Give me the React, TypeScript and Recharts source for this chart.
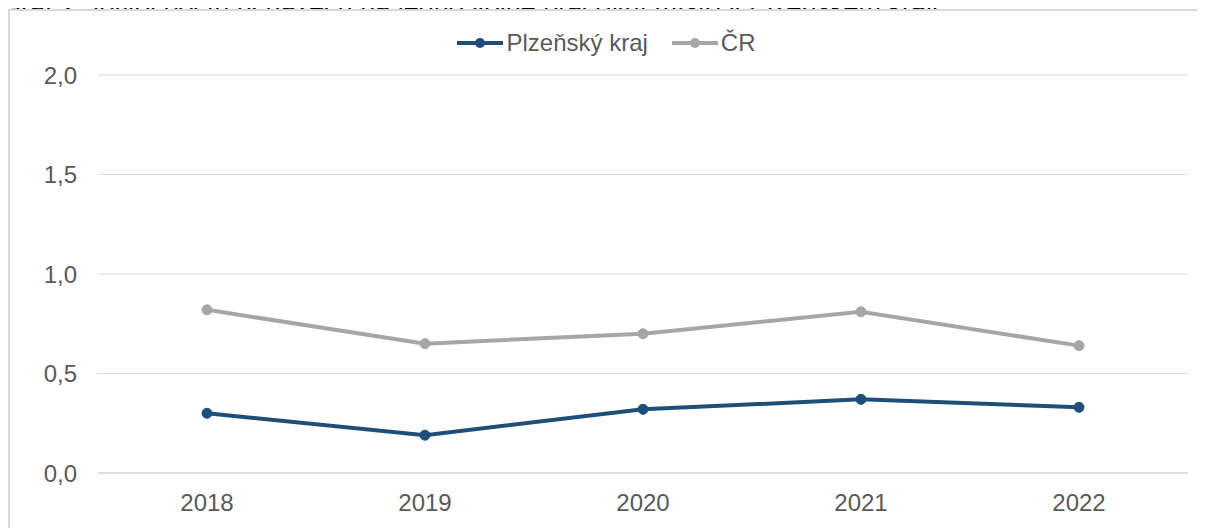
import React from "react";
import { LineChart, Line, XAxis, YAxis, CartesianGrid, Legend } from "recharts";

const years = ["2018", "2019", "2020", "2021", "2022"];
const plzenskyKraj = [0.3, 0.19, 0.32, 0.37, 0.33];
const cr = [0.82, 0.65, 0.7, 0.81, 0.64];
const yTicks = [0, 0.5, 1, 1.5, 2];
const title = "Graf 2: Vývoj počtu uchazečů na jedno volné pracovní místo v Plzeňském kraji";

const data = years.map((y, i) => ({ year: y, plzen: plzenskyKraj[i], cr: cr[i] }));

const BLUE = "#1f4e79";
const GRAY = "#a6a6a6";
const TEXT = "#595959";
const FONT = "'Liberation Sans', Arial, sans-serif";

const LegendContent = () => {
  const items = [
    { label: "Plzeňský kraj", color: BLUE },
    { label: "ČR", color: GRAY },
  ];
  return (
    <div style={{ display: "flex", justifyContent: "center", fontFamily: FONT, fontSize: 24, lineHeight: "24px", color: TEXT, paddingLeft: 8 }}>
      {items.map((it, i) => (
        <div key={it.label} style={{ display: "flex", alignItems: "center", marginRight: i === 0 ? 24 : 0 }}>
          <svg width={46} height={14} style={{ marginRight: 3 }}>
            <line x1={0} y1={7} x2={46} y2={7} stroke={it.color} strokeWidth={4} />
            <circle cx={23} cy={7} r={5} fill={it.color} />
          </svg>
          <span>{it.label}</span>
        </div>
      ))}
    </div>
  );
};

const fmt = (v: number) => v.toFixed(1).replace(".", ",");

export default function App() {
  return (
    <div style={{ position: "relative", width: 1205, height: 528, margin: "-8px 0 0 -8px", overflow: "hidden", background: "#fff" }}>
      <svg width={1205} height={24} style={{ position: "absolute", left: 0, top: 0 }}>
        <text x={0} y={16} fontFamily={FONT} fontStyle="italic" fontSize={27} fill="#000">
          {title}
        </text>
      </svg>
      <div
        style={{
          position: "absolute",
          left: 8,
          top: 9,
          width: 1220,
          height: 540,
          border: "2px solid #d9d9d9",
          boxSizing: "border-box",
          background: "#fff",
        }}
      />
      <div style={{ position: "absolute", left: 0, top: 0 }}>
        <LineChart width={1205} height={528} data={data} margin={{ top: 51, right: 17, bottom: 25, left: 38 }}>
          <CartesianGrid vertical={false} stroke="#d9d9d9" />
          <XAxis
            dataKey="year"
            padding={{ left: 109, right: 109 }}
            axisLine={{ stroke: "#d0d0d0" }}
            tickLine={false}
            tickMargin={15}
            height={30}
            tick={{ fill: TEXT, fontSize: 24, fontFamily: FONT }}
          />
          <YAxis
            domain={[0, 2]}
            ticks={yTicks}
            tickFormatter={fmt}
            axisLine={false}
            tickLine={false}
            tickMargin={15}
            width={60}
            tick={{ fill: TEXT, fontSize: 24, fontFamily: FONT }}
          />
          <Legend verticalAlign="top" content={<LegendContent />} wrapperStyle={{ top: 31, left: 0, width: 1205 }} />
          <Line
            dataKey="plzen"
            name="Plzeňský kraj"
            stroke={BLUE}
            strokeWidth={4}
            dot={{ r: 5, fill: BLUE, stroke: BLUE, strokeWidth: 1 }}
            isAnimationActive={false}
          />
          <Line
            dataKey="cr"
            name="ČR"
            stroke={GRAY}
            strokeWidth={4}
            dot={{ r: 5, fill: GRAY, stroke: GRAY, strokeWidth: 1 }}
            isAnimationActive={false}
          />
        </LineChart>
      </div>
    </div>
  );
}
